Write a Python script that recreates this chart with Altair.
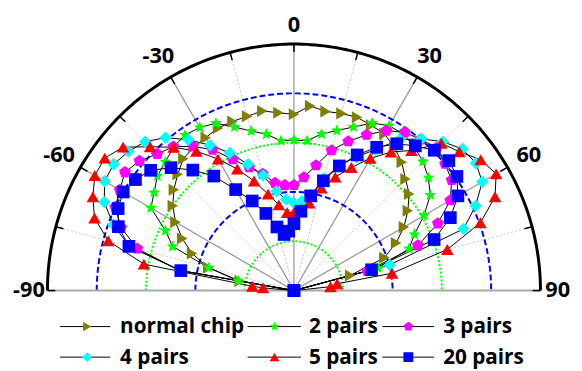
import altair as alt
import pandas as pd
import numpy as np

FONT = "Open Sans"

series_names = ["normal chip", "2 pairs", "3 pairs", "4 pairs", "5 pairs", "20 pairs"]
series_colors = ["#808000", "#00FF00", "#FF00FF", "#00FFFF", "#FF0000", "#0000FF"]
STAR = ("M0,-1L0.264,-0.363L0.951,-0.309L0.427,0.139L0.588,0.809L0,0.45"
        "L-0.588,0.809L-0.427,0.139L-0.951,-0.309L-0.264,-0.363Z")
PENT = "M0,-1L0.951,-0.309L0.588,0.809L-0.588,0.809L-0.951,-0.309Z"
series_shapes = ["triangle-right", STAR, PENT, "diamond", "triangle-up", "square"]
series_sizes = [150, 165, 120, 120, 145, 88]

# ---- data (angle in degrees, normalized radius) ----
ang_normal = [-90, -80, -75, -70, -65, -60, -55, -50, -45, -40, -35, -30, -25, -20, -15, -10, -5, 0,
              5, 10, 15, 20, 25, 30, 35, 40, 45, 50, 55, 60, 65, 70, 75, 90]
r_normal = [0, 0.224, 0.36, 0.44, 0.50, 0.555, 0.60, 0.636, 0.667, 0.698, 0.71, 0.716, 0.728, 0.73,
            0.732, 0.74, 0.724, 0.715, 0.752, 0.738, 0.744, 0.748, 0.74, 0.734, 0.71, 0.68, 0.64,
            0.61, 0.564, 0.515, 0.457, 0.39, 0.236, 0]

ang_2 = [-90, -80, -75, -70, -65, -60, -55, -50, -45, -40, -35, -30, -25, -20, -15, -10, -5, 0,
         5, 10, 15, 20, 25, 30, 35, 40, 45, 50, 55, 60, 65, 70, 75, 90]
r_2 = [0, 0.23, 0.358, 0.524, 0.575, 0.67, 0.693, 0.723, 0.738, 0.76, 0.77, 0.764, 0.749, 0.706,
       0.67, 0.644, 0.61, 0.611, 0.61, 0.645, 0.672, 0.706, 0.75, 0.772, 0.775, 0.76, 0.74, 0.712,
       0.675, 0.609, 0.539, 0.497, 0.353, 0]

ang_3 = [-90, -80, -75, -70, -65, -60, -55, -50, -45, -40, -35, -30, -25, -20, -15, -10, -5, 0,
         5, 10, 15, 20, 25, 30, 35, 40, 45, 50, 55, 60, 65, 70, 75, 90]
r_3 = [0, 0.472, 0.658, 0.746, 0.80, 0.816, 0.837, 0.818, 0.784, 0.762, 0.714, 0.66, 0.588, 0.532,
       0.49, 0.443, 0.429, 0.428, 0.461, 0.516, 0.589, 0.644, 0.697, 0.749, 0.784, 0.80, 0.82, 0.80,
       0.781, 0.732, 0.644, 0.535, 0.308, 0]

ang_4 = [-90, -80, -75, -70, -65, -60, -55, -50, -45, -40, -35, -30, -25, -20, -15, -10, -5, 0,
         5, 10, 15, 20, 25, 30, 35, 40, 45, 50, 55, 60, 65, 70, 75, 90]
r_4 = [0, 0.47, 0.69, 0.78, 0.849, 0.887, 0.893, 0.877, 0.854, 0.81, 0.747, 0.681, 0.616, 0.545,
       0.483, 0.409, 0.371, 0.355, 0.363, 0.394, 0.47, 0.54, 0.598, 0.66, 0.748, 0.803, 0.854,
       0.893, 0.901, 0.882, 0.813, 0.732, 0.402, 0]

ang_5 = [-90, -85, -84, -80, -75, -70, -65, -60, -55, -50, -45, -40, -35, -30, -25, -20, -15, -10,
         -5, 0, 5, 10, 15, 20, 25, 30, 35, 40, 45, 50, 55, 60, 65, 70, 75, 80, 81, 84, 90]
r_5 = [0, 0.126, 0.17, 0.618, 0.78, 0.861, 0.90, 0.933, 0.937, 0.905, 0.825, 0.759, 0.69, 0.616,
       0.544, 0.473, 0.405, 0.353, 0.318, 0.317, 0.33, 0.36, 0.43, 0.49, 0.551, 0.619, 0.686,
       0.742, 0.845, 0.876, 0.925, 0.947, 0.90, 0.805, 0.644, 0.404, 0.177, 0.149, 0]

ang_20 = [-90, -80, -75, -70, -65, -60, -55, -50, -45, -40, -35, -30, -25, -20, -15, -10, -5, 0,
          5, 10, 15, 20, 25, 30, 35, 40, 45, 50, 55, 60, 65, 70, 75, 90]
r_20 = [0, 0.466, 0.693, 0.758, 0.787, 0.80, 0.785, 0.759, 0.705, 0.638, 0.567, 0.473, 0.401,
        0.333, 0.267, 0.231, 0.242, 0.271, 0.323, 0.39, 0.461, 0.538, 0.607, 0.671, 0.727, 0.766,
        0.805, 0.82, 0.807, 0.768, 0.70, 0.605, 0.326, 0]

tick_angles = [-90, -60, -30, 0, 30, 60, 90]
tick_labels = ["-90", "-60", "-30", "0", "30", "60", "90"]
tick_label_r = [1.075, 1.1, 1.1, 1.075, 1.1, 1.1, 1.07]
minor_angles = [-75, -45, -15, 15, 45, 75]
major_angles = [-60, -30, 0, 30, 60]
grid_green = [0.2, 0.6]
grid_blue = [0.4, 0.8]

all_angles = [ang_normal, ang_2, ang_3, ang_4, ang_5, ang_20]
all_r = [r_normal, r_2, r_3, r_4, r_5, r_20]
rows = []
for name, angs, rs in zip(series_names, all_angles, all_r):
    for a, r in zip(angs, rs):
        rows.append({"series": name, "angle": a, "r": r})
df = pd.DataFrame(rows)

XS = alt.Scale(domain=[-1, 1], nice=False, zero=False)
YS = alt.Scale(domain=[0, 1], nice=False, zero=False)


def X(f):
    return alt.X(f, type="quantitative", scale=XS, axis=None)


def Y(f):
    return alt.Y(f, type="quantitative", scale=YS, axis=None)


def polar(ch, rf="r", af="angle", xn="px", yn="py"):
    return ch.transform_calculate(
        **{xn: f"datum.{rf}*sin(datum.{af}*PI/180)", yn: f"datum.{rf}*cos(datum.{af}*PI/180)"}
    )


shape_scale = alt.Scale(domain=series_names, range=series_shapes)
color_scale = alt.Scale(domain=series_names, range=series_colors)
size_scale = alt.Scale(domain=series_names, range=series_sizes)

# ---- grid ----
arc_deg = list(range(-90, 91, 1))


def circle_df(radii):
    return pd.DataFrame([{"ring": rr, "angle": a, "r": rr} for rr in radii for a in arc_deg])


green_c = polar(alt.Chart(circle_df(grid_green)).mark_line(
    color="#00FF00", strokeWidth=2, strokeDash=[2, 2])).encode(
    x=X("px"), y=Y("py"), detail="ring:N", order="angle:Q")
blue_c = polar(alt.Chart(circle_df(grid_blue)).mark_line(
    color="#0000FF", strokeWidth=2, strokeDash=[6, 3])).encode(
    x=X("px"), y=Y("py"), detail="ring:N", order="angle:Q")
outer_c = polar(alt.Chart(circle_df([1.0])).mark_line(
    color="black", strokeWidth=3)).encode(
    x=X("px"), y=Y("py"), detail="ring:N", order="angle:Q")


def spoke_chart(angles, r0, r1, **style):
    d = pd.DataFrame({"angle": angles, "r0": r0, "r1": r1})
    c = alt.Chart(d).mark_rule(**style).transform_calculate(
        x0=f"datum.r0*sin(datum.angle*PI/180)", y0=f"datum.r0*cos(datum.angle*PI/180)",
        x1=f"datum.r1*sin(datum.angle*PI/180)", y1=f"datum.r1*cos(datum.angle*PI/180)")
    return c.encode(x=X("x0"), y=Y("y0"), x2="x1:Q", y2="y1:Q")


minor_sp = spoke_chart(minor_angles, 0, 1, color="#c8c8c8", strokeWidth=1, strokeDash=[2, 2])
major_sp = spoke_chart(major_angles, 0, 1, color="#9a9a9a", strokeWidth=1.3)
base_line = spoke_chart([-90, 90], 0, 1, color="#aaaaaa", strokeWidth=2)
ticks = spoke_chart(list(range(-90, 91, 15)), 0.968, 1.0, color="black", strokeWidth=1.5)

lab_df = pd.DataFrame({"angle": tick_angles, "label": tick_labels, "r": tick_label_r})
labels = polar(alt.Chart(lab_df).mark_text(
    font=FONT, fontSize=22, fontWeight="bold", color="black", align="center", baseline="middle")).encode(
    x=X("px"), y=Y("py"), text="label:N")

# ---- data ----
lines = polar(alt.Chart(df).mark_line(color="black", strokeWidth=1)).encode(
    x=X("px"), y=Y("py"), detail="series:N", order="angle:Q")
points = polar(alt.Chart(df).mark_point(filled=True, opacity=1, strokeWidth=0)).encode(
    x=X("px"), y=Y("py"),
    shape=alt.Shape("series:N", scale=shape_scale, legend=None),
    color=alt.Color("series:N", scale=color_scale, legend=None),
    size=alt.Size("series:N", scale=size_scale, legend=None))

# ---- manual legend (pixel layout) ----
col_line1 = [12.7, 203, 339.7]
col_line2 = [63.7, 257, 392]
col_mark = [40.3, 230.3, 366]
col_text = [73.7, 265.3, 401.3]
row_y = [286.5, 317.5]
leg = []
for i, name in enumerate(series_names):
    c, rw = i % 3, i // 3
    leg.append({"series": name, "lx1": col_line1[c], "lx2": col_line2[c], "mx": col_mark[c],
                "tx": col_text[c], "ly": row_y[rw], "ty": row_y[rw] + 1})
leg_df = pd.DataFrame(leg)
leg_size = alt.Scale(domain=series_names, range=[int(s * 0.6) for s in series_sizes])

leg_rules = alt.Chart(leg_df).mark_rule(color="black", strokeWidth=1).encode(
    x=alt.X("lx1:Q", scale=None, axis=None), x2="lx2:Q", y=alt.Y("ly:Q", scale=None, axis=None))
leg_pts = alt.Chart(leg_df).mark_point(filled=True, opacity=1, strokeWidth=0).encode(
    x=alt.X("mx:Q", scale=None, axis=None), y=alt.Y("ly:Q", scale=None, axis=None),
    shape=alt.Shape("series:N", scale=shape_scale, legend=None),
    color=alt.Color("series:N", scale=color_scale, legend=None),
    size=alt.Size("series:N", scale=leg_size, legend=None))
leg_text = alt.Chart(leg_df).mark_text(
    font=FONT, fontSize=21, fontWeight="bold", color="black", align="left", baseline="middle").encode(
    x=alt.X("tx:Q", scale=None, axis=None), y=alt.Y("ty:Q", scale=None, axis=None), text="series:N")

chart = alt.layer(
    minor_sp, major_sp, green_c, blue_c, base_line, outer_c, ticks, labels,
    lines, points, leg_rules, leg_pts, leg_text
).resolve_scale(x="independent", y="independent", size="independent").properties(
    width=500, height=250,
    padding={"left": 40, "top": 34, "right": 34, "bottom": 79},
    autosize=alt.AutoSizeParams(type="none"),
    background="white",
).configure_view(stroke=None)

chart.save("out.html", embed_options={"renderer": "svg", "actions": False})
